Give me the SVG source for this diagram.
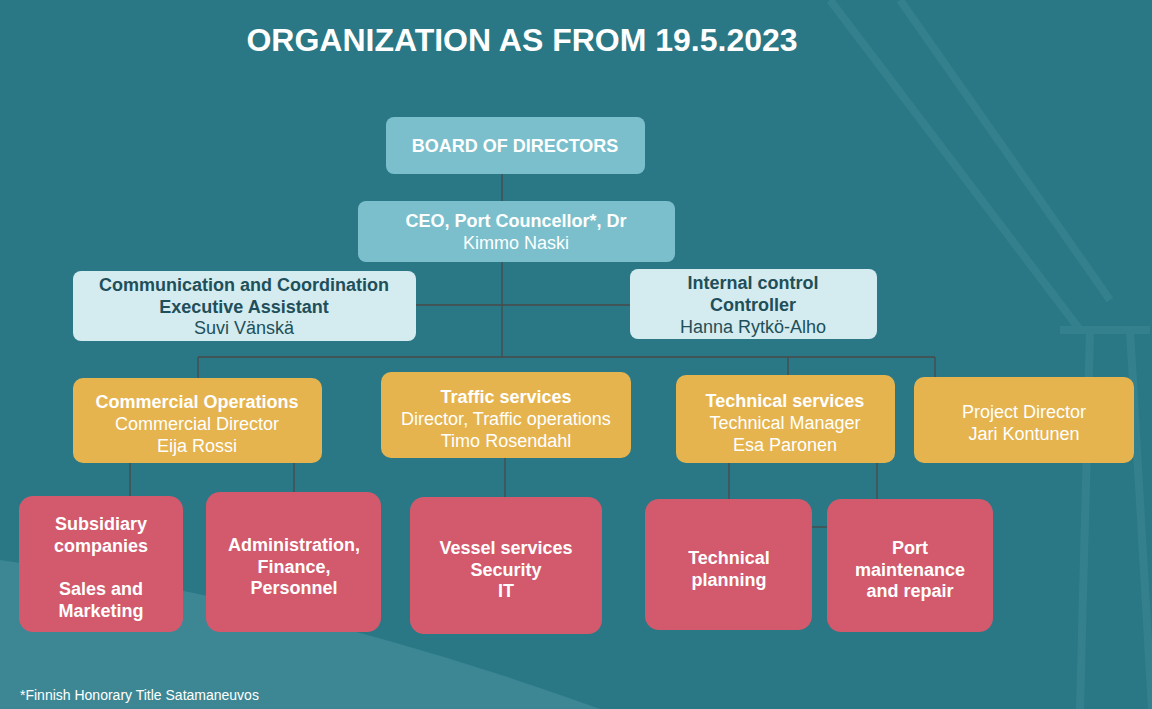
<svg xmlns="http://www.w3.org/2000/svg" width="1152" height="709" viewBox="0 0 1152 709">
<style>
text{font-family:"Liberation Sans",Arial,sans-serif;text-anchor:middle;font-size:18px}
.b{font-weight:bold}
.w{fill:#fff}
.d{fill:#1e4f5a}
.lt{fill:#d4ebef}
.or{fill:#e5b44e}
.rd{fill:#d25a6c}
.bd{fill:#7bbfcc}
#c line{stroke:#4a4a4a;stroke-width:1.3}
</style>
<rect width="1152" height="709" fill="#2a7886"/>
<path d="M0 560 Q300 600 600 709 L0 709Z" fill="#4f95a3" opacity="0.5"/>
<g fill="none" stroke="#4a8f9c" stroke-width="8" opacity="0.35">
<path d="M830 0 L1080 330 M900 0 L1110 300 M1060 330 L1150 330 M1090 330 L1080 709 M1130 330 L1152 709"/>
</g>
<text x="522" y="51" class="b w" style="font-size:32px">ORGANIZATION AS FROM 19.5.2023</text>
<g id="c">
<line x1="502" y1="174" x2="502" y2="201"/>
<line x1="502" y1="262" x2="502" y2="357"/>
<line x1="416" y1="305" x2="630" y2="305"/>
<line x1="198" y1="357" x2="935" y2="357"/>
<line x1="198" y1="357" x2="198" y2="378"/>
<line x1="788" y1="357" x2="788" y2="375"/>
<line x1="935" y1="357" x2="935" y2="377"/>
<line x1="130" y1="463" x2="130" y2="496"/>
<line x1="294" y1="463" x2="294" y2="492"/>
<line x1="505" y1="458" x2="505" y2="497"/>
<line x1="729" y1="463" x2="729" y2="499"/>
<line x1="877" y1="463" x2="877" y2="499"/>
<line x1="812" y1="527" x2="828" y2="527"/>
</g>
<g id="board"><rect x="386" y="117" width="259" height="57" rx="8" class="bd"/><text x="515" y="152" class="b w">BOARD OF DIRECTORS</text></g>
<g id="ceo"><rect x="358" y="201" width="317" height="61" rx="8" class="bd"/><text x="516" y="227" class="b w">CEO, Port Councellor*, Dr</text><text x="516" y="249" class="w">Kimmo Naski</text></g>
<g id="comm"><rect x="73" y="271" width="343" height="70" rx="8" class="lt"/><text x="244" y="291" class="b d">Communication and Coordination</text><text x="244" y="313" class="b d">Executive Assistant</text><text x="244" y="334" class="d">Suvi Vänskä</text></g>
<g id="internal"><rect x="630" y="269" width="247" height="70" rx="8" class="lt"/><text x="753" y="289" class="b d">Internal control</text><text x="753" y="311" class="b d">Controller</text><text x="753" y="333" class="d">Hanna Rytkö-Alho</text></g>
<g id="commercial"><rect x="73" y="378" width="249" height="85" rx="10" class="or"/><text x="197" y="408" class="b w">Commercial Operations</text><text x="197" y="430" class="w">Commercial Director</text><text x="197" y="452" class="w">Eija Rossi</text></g>
<g id="traffic"><rect x="381" y="372" width="250" height="86" rx="10" class="or"/><text x="506" y="403" class="b w">Traffic services</text><text x="506" y="425" class="w">Director, Traffic operations</text><text x="506" y="447" class="w">Timo Rosendahl</text></g>
<g id="technical"><rect x="676" y="375" width="219" height="88" rx="10" class="or"/><text x="785" y="407" class="b w">Technical services</text><text x="785" y="429" class="w">Technical Manager</text><text x="785" y="451" class="w">Esa Paronen</text></g>
<g id="project"><rect x="914" y="377" width="220" height="86" rx="10" class="or"/><text x="1024" y="418" class="w">Project Director</text><text x="1024" y="440" class="w">Jari Kontunen</text></g>
<g id="subsidiary"><rect x="19" y="496" width="164" height="136" rx="14" class="rd"/><text x="101" y="530" class="b w">Subsidiary</text><text x="101" y="552" class="b w">companies</text><text x="101" y="595" class="b w">Sales and</text><text x="101" y="617" class="b w">Marketing</text></g>
<g id="admin"><rect x="206" y="492" width="175" height="140" rx="14" class="rd"/><text x="294" y="551" class="b w">Administration,</text><text x="294" y="573" class="b w">Finance,</text><text x="294" y="594" class="b w">Personnel</text></g>
<g id="vessel"><rect x="410" y="497" width="192" height="137" rx="14" class="rd"/><text x="506" y="554" class="b w">Vessel services</text><text x="506" y="576" class="b w">Security</text><text x="506" y="597" class="b w">IT</text></g>
<g id="tplanning"><rect x="645" y="499" width="167" height="131" rx="14" class="rd"/><text x="729" y="564" class="b w">Technical</text><text x="729" y="586" class="b w">planning</text></g>
<g id="portmaint"><rect x="827" y="499" width="166" height="133" rx="14" class="rd"/><text x="910" y="554" class="b w">Port</text><text x="910" y="576" class="b w">maintenance</text><text x="910" y="597" class="b w">and repair</text></g>
<text x="20" y="700" class="w" style="font-size:14px;text-anchor:start">*Finnish Honorary Title Satamaneuvos</text>
</svg>
